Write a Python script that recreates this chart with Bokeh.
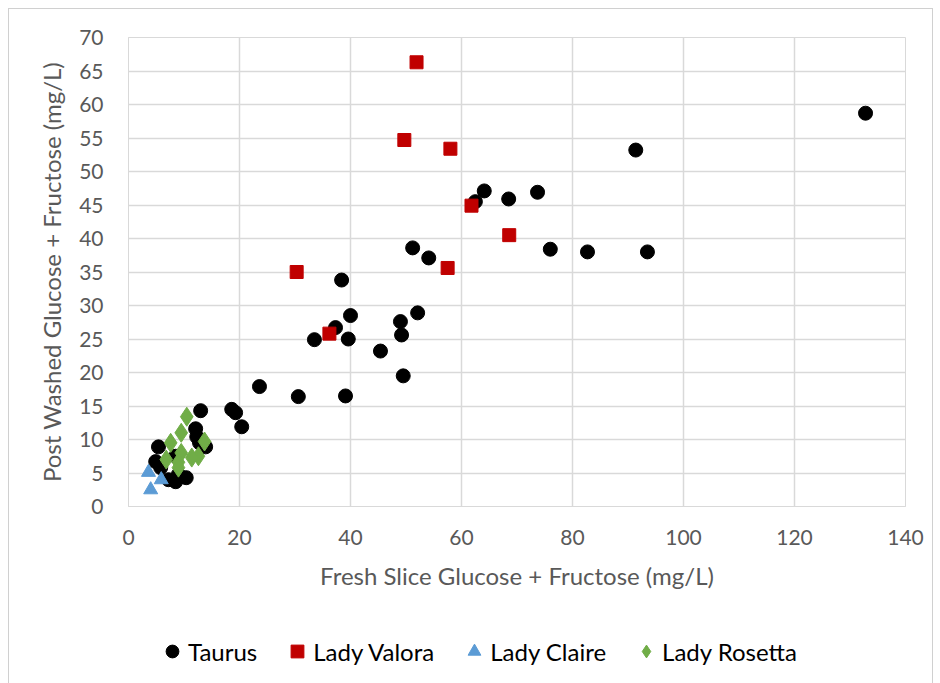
from bokeh.plotting import figure
from bokeh.layouts import column
from bokeh.models import Legend, LegendItem, Range1d, FixedTicker
from bokeh.embed import file_html
from bokeh.resources import INLINE

# Fresh slice vs post-washed glucose + fructose (mg/L), per cultivar
taurus_x = [132.8, 91.4, 73.7, 64.1, 68.5, 62.5, 51.2, 54.1, 76.0, 82.7, 93.5,
            38.4, 40.0, 52.1, 49.0, 37.3, 33.5, 39.6, 49.2, 45.4, 49.5, 23.6,
            30.6, 39.1, 18.6, 19.3, 20.4, 13.0, 12.1, 12.3, 12.8, 13.9, 5.4,
            4.9, 5.8, 7.2, 8.5, 10.4, 9.0, 8.5]
taurus_y = [58.7, 53.2, 46.9, 47.1, 45.9, 45.5, 38.6, 37.1, 38.4, 38.0, 38.0,
            33.8, 28.5, 28.9, 27.6, 26.7, 24.9, 25.0, 25.6, 23.2, 19.5, 17.9,
            16.4, 16.5, 14.5, 14.0, 11.9, 14.3, 11.6, 10.4, 9.5, 8.9, 8.9,
            6.7, 5.8, 4.0, 3.7, 4.3, 4.8, 7.5]

valora_x = [51.9, 49.7, 58.0, 61.8, 68.6, 57.5, 30.3, 36.2]
valora_y = [66.3, 54.7, 53.4, 44.9, 40.5, 35.6, 35.0, 25.8]

claire_x = [3.6, 5.9, 4.0]
claire_y = [5.1, 4.0, 2.5]

rosetta_x = [10.5, 9.5, 7.6, 13.7, 9.5, 6.8, 12.6, 11.4, 9.0, 9.0]
rosetta_y = [13.4, 11.0, 9.5, 9.7, 8.0, 7.0, 7.5, 7.3, 6.6, 5.8]

series_names = ["Taurus", "Lady Valora", "Lady Claire", "Lady Rosetta"]

x_ticks = [0, 20, 40, 60, 80, 100, 120, 140]
y_ticks = [0, 5, 10, 15, 20, 25, 30, 35, 40, 45, 50, 55, 60, 65, 70]

FONT = "Lato"
GRID = "#d9d9d9"
LABEL = "#595959"

STYLES = [
    dict(marker="circle", size=14, fill_color="black", line_color="black"),
    dict(marker="square", size=13, fill_color="#C00000", line_color="#C00000"),
    dict(marker="triangle", size=14, fill_color="#5B9BD5", line_color="#5B9BD5"),
    dict(marker="diamond", size=19, fill_color="#70AD47", line_color="#70AD47"),
]

all_x = [taurus_x, valora_x, claire_x, rosetta_x]
all_y = [taurus_y, valora_y, claire_y, rosetta_y]

p = figure(frame_width=777, frame_height=469,
           x_range=Range1d(0, 140), y_range=Range1d(0, 70),
           output_backend="svg", toolbar_location=None,
           min_border_left=119, min_border_top=28, min_border_right=27,
           min_border_bottom=94, background_fill_color="white",
           border_fill_color="white", outline_line_color=GRID)

for ax in (p.xaxis[0], p.yaxis[0]):
    ax.axis_line_color = GRID
    ax.major_tick_line_color = None
    ax.minor_tick_line_color = None
    ax.major_label_text_font = FONT
    ax.major_label_text_font_size = "21px"
    ax.major_label_text_color = LABEL
    ax.axis_label_text_font = FONT
    ax.axis_label_text_font_size = "24px"
    ax.axis_label_text_font_style = "normal"
    ax.axis_label_text_color = LABEL

p.xaxis.ticker = FixedTicker(ticks=x_ticks)
p.yaxis.ticker = FixedTicker(ticks=y_ticks)
p.xaxis.axis_label = "Fresh Slice Glucose + Fructose (mg/L)"
p.yaxis.axis_label = "Post Washed Glucose + Fructose (mg/L)"
p.xaxis.major_label_standoff = 17
p.yaxis.major_label_standoff = 19
p.xaxis.axis_label_standoff = 13
p.yaxis.axis_label_standoff = 10

p.xgrid.grid_line_color = GRID
p.ygrid.grid_line_color = GRID
p.xgrid.grid_line_width = 1.5
p.ygrid.grid_line_width = 1.5

for xs, ys, st in zip(all_x, all_y, STYLES):
    p.scatter(xs, ys, **st)

# legend strip underneath the plot; its key renderers hold each series'
# first point, which lies outside this strip's 0..1 ranges and stays hidden
lf = figure(width=p.frame_width + 119 + 27, height=90,
            x_range=Range1d(0, 1), y_range=Range1d(0, 1),
            x_axis_type=None, y_axis_type=None,
            output_backend="svg", toolbar_location=None,
            min_border=0, outline_line_color=None,
            background_fill_color="white", border_fill_color="white")
lf.grid.visible = False

items = []
for name, xs, ys, st in zip(series_names, all_x, all_y, STYLES):
    r = lf.scatter(xs[:1], ys[:1], **st)
    items.append(LegendItem(label=name, renderers=[r]))

legend = Legend(items=items, orientation="horizontal", location=(28, 23))
legend.border_line_color = None
legend.background_fill_alpha = 0
legend.label_text_font = FONT
legend.label_text_font_size = "24px"
legend.label_text_color = "black"
legend.glyph_width = 32
legend.glyph_height = 32
legend.label_standoff = 0
legend.spacing = 24
legend.margin = 0
legend.padding = 5
lf.add_layout(legend, "center")

page = column(p, lf, spacing=0, margin=(8, 0, 0, 8),
              styles={"border": "1px solid #d0d0d0", "background": "white"})

open("out.html", "w").write(file_html(page, INLINE))
